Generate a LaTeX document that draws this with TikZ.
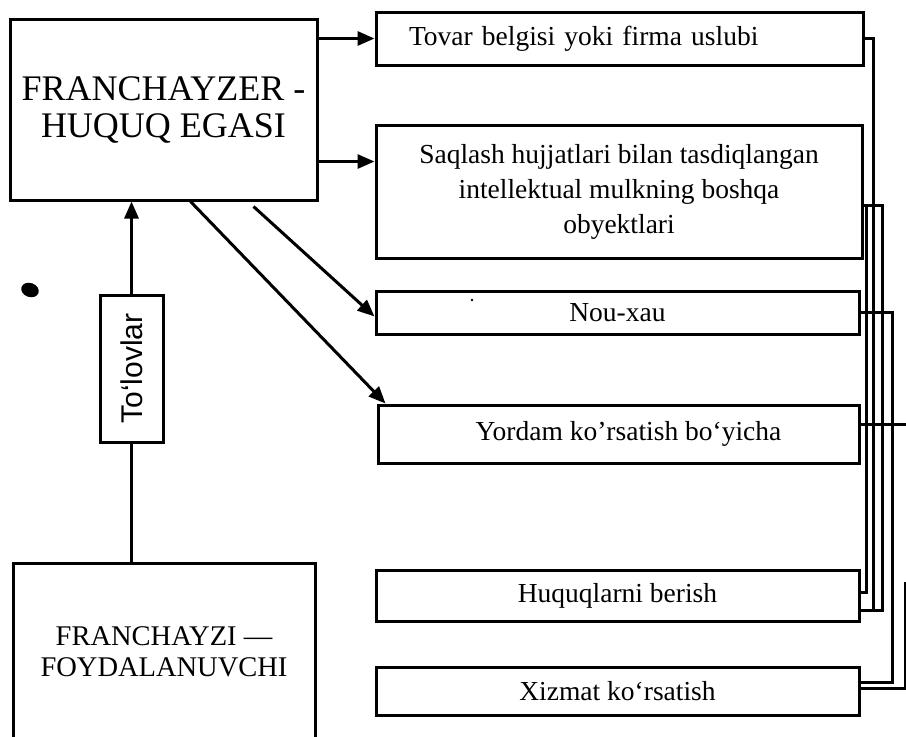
\documentclass[tikz,border=0pt]{standalone}
\usepackage{fontspec}
\setmainfont{Liberation Serif}
\newfontfamily\tolovfont{Liberation Sans}
\usetikzlibrary{arrows.meta,positioning}

\begin{document}
\begin{tikzpicture}[x=1pt,y=-1pt,
    blok/.style={draw, line width=3pt, inner sep=0pt, align=center},
    matn/.style={font=\fontsize{27.5}{35}\selectfont},
    strelka/.style={line width=3pt, -{Triangle[length=17pt,width=14pt]}},
    sim/.style={line width=3pt}]
  \useasboundingbox (0,0) rectangle (906,737);

  \node[blok, minimum width=307pt, minimum height=181pt, font=\fontsize{36}{37}\selectfont] (franchayzer) at (163.5,109.5) {FRANCHAYZER -\\HUQUQ EGASI};
  \node[blok, minimum width=302pt, minimum height=175.5pt, font=\fontsize{28.5}{31}\selectfont] (franchayzi) at (164,651.5) {FRANCHAYZI ---\\FOYDALANUVCHI};
  \node[blok, minimum width=63pt, minimum height=147pt, font=\tolovfont\fontsize{30}{32}\selectfont] (tolov) at (131.5,368.5) {\rotatebox{90}{To‘lovlar}};

  \node[blok, matn, minimum width=487pt, minimum height=53pt, text width=421pt, align=left] (tovar) at (619.5,38.5) {Tovar belgisi yoki firma uslubi};
  \node[blok, matn, minimum width=486pt, minimum height=133pt] (saqlash) at (619,191.5) {Saqlash hujjatlari bilan tasdiqlangan\\intellektual mulkning boshqa\\obyektlari};
  \node[blok, matn, minimum width=483pt, minimum height=43pt] (nou) at (617.5,312.5) {Nou-xau};
  \node[blok, matn, minimum width=481pt, minimum height=58pt] (yordam) at (618.5,434) {\hspace*{20pt}Yordam ko’rsatish bo‘yicha};
  \node[blok, matn, minimum width=483pt, minimum height=51pt] (huquq) at (617.5,595.5) {Huquqlarni berish};
  \node[blok, matn, minimum width=483pt, minimum height=48pt] (xizmat) at (617.5,691) {Xizmat ko‘rsatish};

  \draw[strelka] (franchayzer.east |- tovar.west) -- (tovar.west);
  \draw[strelka] (franchayzer.east |- saqlash.west) ++(0,-30) -- ([yshift=30pt]saqlash.west);
  \draw[strelka] ([xshift=27pt]franchayzer.south) -- ([xshift=9pt]yordam.north west);
  \coordinate (diagbosh) at ([xshift=90pt,yshift=-5pt]franchayzer.south);
  \draw[strelka] (diagbosh) -- ([yshift=-4pt]nou.west);
  \draw[strelka] (tolov.north) -- (franchayzer.south -| tolov.north);
  \draw[sim] (tolov.south) -- (franchayzi.north -| tolov.south);

  \coordinate (colA) at (866,0);
  \coordinate (colB) at (873,0);
  \coordinate (colC) at (882,0);
  \coordinate (colD) at (892,0);
  \coordinate (colE) at (905,0);
  \coordinate (colF) at (907,0);
  \coordinate (huqA) at ([yshift=3.5pt]huquq.east);
  \coordinate (huqB) at ([yshift=-14.5pt]huquq.east);
  \coordinate (saqR) at ([yshift=-13.5pt]saqlash.east);
  \coordinate (yorR) at ([yshift=10pt]yordam.east);
  \coordinate (xizA) at ([yshift=9pt]xizmat.east);
  \coordinate (xizB) at ([yshift=3pt]xizmat.east);
  \coordinate (tashqi) at (905,582);

  \draw[sim] (tovar.east) -| (colB |- huqB) -- (huqB);
  \draw[sim] (saqR) -| (colC |- huqB) -- (huqB);
  \draw[sim] (colA |- saqR) -- (colA |- huqA) -- (huqA);
  \draw[sim] (nou.east) -| (colD |- xizA) -- (xizA);
  \draw[sim] (yorR) -- (colF |- yorR);
  \draw[sim] (tashqi) |- (xizB);

  \fill[rotate around={-20:(30,290)}] (30,290) ellipse (9pt and 7pt);
  \fill (472,300) circle (1.3pt);
\end{tikzpicture}
\end{document}
